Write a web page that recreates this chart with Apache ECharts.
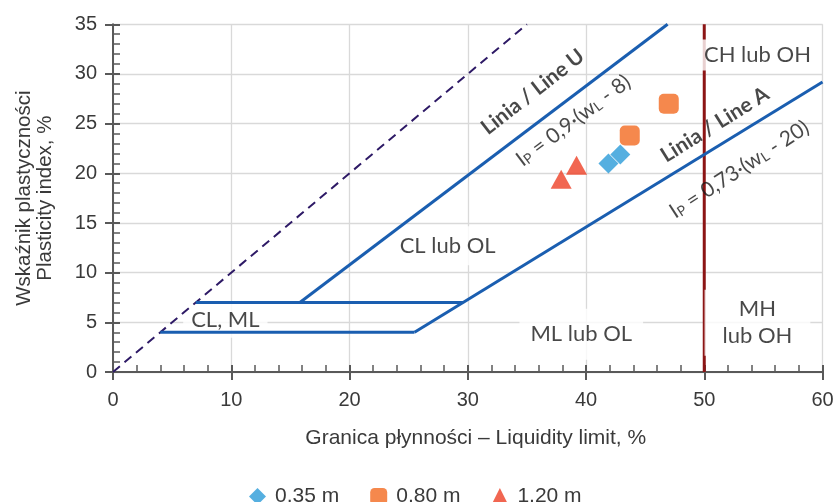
<!DOCTYPE html>
<html>
<head>
<meta charset="utf-8">
<script src="https://cdn.jsdelivr.net/npm/echarts@6/dist/echarts.min.js"></script>
<style>
  html, body { margin: 0; padding: 0; background: #ffffff; }
  #chart { width: 838px; height: 502px; }
</style>
</head>
<body>
<div id="chart"></div>
<script>
// Plasticity chart: liquid limit vs plasticity index, samples grouped by depth
const depthNames = ['0,35 m', '0,80 m', '1,20 m'];
const liquidLimit035 = [41.9, 42.9];
const plasticIndex035 = [21.0, 21.9];
const liquidLimit080 = [43.7, 47.0];
const plasticIndex080 = [23.8, 27.0];
const liquidLimit120 = [37.9, 39.2];
const plasticIndex120 = [19.4, 20.8];

// Boundary lines, vertices as [wL, Ip]
const equalityLine = [[0, 0], [35, 35]];
const lineU = [[15.8, 7], [46.9, 35]];
const lineA = [[25.5, 4], [60, 29.2]];
const upperStep = [[7, 7], [29.6, 7]];
const lowerStep = [[4, 4], [25.5, 4]];
const liquidLimit50 = [[50, 0], [50, 35]];

// Zone captions and where they sit (in wL / Ip units)
const zoneNames = ['CH lub OH', 'CL lub OL', 'ML lub OL', 'MH\nlub OH', 'CL, ML'];
const zoneAnchors = [[54.5, 31.9], [28.3, 12.7], [39.6, 3.8], [54.5, 4.95], [9.5, 5.2]];
const zonePadding = [[2, 4], [6, 8], [12, 11], [6, 18], [4, 8]];

// Captions that run along line U and line A
const lineCaptions = [
  { text: 'Linia / Line U', at: [35.5, 28.2], angle: 38, bold: true },
  { text: '{i|I}{s|P}{i| = 0,9·(w}{s|L}{i| - 8)}', at: [38.8, 25.5], angle: 37, bold: false },
  { text: 'Linia / Line A', at: [50.9, 24.9], angle: 32, bold: true },
  { text: '{i|I}{s|P}{i| = 0,73·(w}{s|L}{i| - 20)}', at: [52.85, 20.6], angle: 33, bold: false }
];

const toPoints = (xs, ys) => xs.map((x, i) => [x, ys[i]]);

const axisColor = '#595959';
const gridColor = '#d9d9d9';
const textColor = '#3a3a3a';
const blue = '#1a5eb0';
const annotFont = 'Lato';
const sansFont = 'Liberation Sans';

const chart = echarts.init(document.getElementById('chart'), null, { renderer: 'canvas' });

function boundary(data, color, width, type, z) {
  return {
    type: 'line', data, symbol: 'none', silent: true, z,
    lineStyle: { color, width, type, cap: 'butt' },
    emphasis: { disabled: true }
  };
}

const zoneSeries = {
  type: 'scatter', silent: true, z: 2, symbolSize: 1,
  itemStyle: { color: 'rgba(0,0,0,0)' },
  data: zoneAnchors.map((p, i) => ({
    value: p,
    label: {
      show: true, position: 'inside', formatter: zoneNames[i],
      fontFamily: annotFont, fontSize: 22, color: '#1a1a1a', lineHeight: 27,
      backgroundColor: '#ffffff', padding: zonePadding[i]
    }
  }))
};

const captionSeries = {
  type: 'scatter', silent: true, z: 6, symbolSize: 1,
  itemStyle: { color: 'rgba(0,0,0,0)' },
  data: lineCaptions.map(c => ({
    value: c.at,
    label: {
      show: true, position: 'inside', rotate: c.angle, formatter: c.text,
      fontFamily: annotFont, fontSize: 21, color: '#1a1a1a',
      fontWeight: c.bold ? 'bold' : 'normal',
      rich: {
        i: { fontFamily: annotFont, fontSize: 21, color: '#1a1a1a', lineHeight: 26, verticalAlign: 'bottom' },
        s: { fontFamily: annotFont, fontSize: 14, color: '#1a1a1a', lineHeight: 14, verticalAlign: 'bottom' }
      }
    }
  }))
};

const option = {
  animation: false,
  backgroundColor: '#ffffff',
  grid: { left: 113, right: 15.5, top: 24.3, bottom: 130, containLabel: false, outerBoundsMode: 'none' },
  legend: {
    left: 244, top: 481,
    itemWidth: 17, itemHeight: 17, itemGap: 31,
    textStyle: { fontFamily: sansFont, fontSize: 21, color: textColor, padding: [0, 0, 0, 4] },
    data: [
      { name: depthNames[0], icon: 'diamond' },
      { name: depthNames[1], icon: 'roundRect' },
      { name: depthNames[2], icon: 'triangle' }
    ]
  },
  xAxis: [
    {
      type: 'value', min: 0, max: 60, interval: 10, position: 'bottom',
      name: 'Granica płynności – Liquidity limit, %',
      nameLocation: 'middle', nameGap: 56,
      nameTextStyle: { fontFamily: sansFont, fontSize: 21, color: textColor, padding: [0, 0, 0, 16] },
      axisLine: { show: true, onZero: false, lineStyle: { color: axisColor, width: 2 } },
      axisTick: { show: true, inside: false, length: 8, lineStyle: { color: axisColor, width: 2 } },
      axisLabel: { fontFamily: sansFont, fontSize: 20, color: textColor, margin: 18 },
      splitLine: { show: true, lineStyle: { color: gridColor, width: 1.3 } }
    },
    {
      type: 'value', min: 0, max: 60, interval: 10, position: 'bottom',
      axisLine: { show: false },
      axisTick: { show: true, inside: true, length: 7, lineStyle: { color: axisColor, width: 2 } },
      minorTick: { show: true, splitNumber: 5, length: 7, lineStyle: { color: axisColor, width: 1.5 } },
      axisLabel: { show: false },
      splitLine: { show: false }
    }
  ],
  yAxis: [
    {
      type: 'value', min: 0, max: 35, interval: 5, position: 'left',
      name: 'Wskaźnik plastyczności\nPlasticity index, %',
      nameLocation: 'middle', nameGap: 57, nameRotate: 90,
      nameTextStyle: { fontFamily: sansFont, fontSize: 20.5, color: textColor, lineHeight: 21 },
      axisLine: { show: true, onZero: false, lineStyle: { color: axisColor, width: 2 } },
      axisTick: { show: true, inside: false, length: 8, lineStyle: { color: axisColor, width: 2 } },
      axisLabel: { fontFamily: sansFont, fontSize: 20, color: textColor, margin: 16 },
      splitLine: { show: true, lineStyle: { color: gridColor, width: 1.3 } }
    },
    {
      type: 'value', min: 0, max: 35, interval: 5, position: 'left',
      axisLine: { show: false },
      axisTick: { show: true, inside: true, length: 7, lineStyle: { color: axisColor, width: 2 } },
      minorTick: { show: true, splitNumber: 5, length: 7, lineStyle: { color: axisColor, width: 1.5 } },
      axisLabel: { show: false },
      splitLine: { show: false }
    }
  ],
  series: [
    boundary(liquidLimit50, '#8c1515', 3, 'solid', 1),
    zoneSeries,
    boundary(equalityLine, '#2e1a66', 2, [9, 6], 3),
    boundary(lineU, blue, 3, 'solid', 3),
    boundary(lineA, blue, 3, 'solid', 3),
    boundary(upperStep, blue, 3, 'solid', 3),
    boundary(lowerStep, blue, 3, 'solid', 3),
    {
      name: depthNames[0], type: 'scatter', z: 5, symbol: 'diamond', symbolSize: 20,
      itemStyle: { color: '#2b9bd8' }, data: toPoints(liquidLimit035, plasticIndex035)
    },
    {
      name: depthNames[1], type: 'scatter', z: 5, symbol: 'roundRect', symbolSize: 20,
      itemStyle: { color: '#f26a21' }, data: toPoints(liquidLimit080, plasticIndex080)
    },
    {
      name: depthNames[2], type: 'scatter', z: 5, symbol: 'triangle', symbolSize: [21, 19],
      itemStyle: { color: '#ee4026' }, data: toPoints(liquidLimit120, plasticIndex120)
    },
    captionSeries
  ]
};

chart.setOption(option);
</script>
</body>
</html>
